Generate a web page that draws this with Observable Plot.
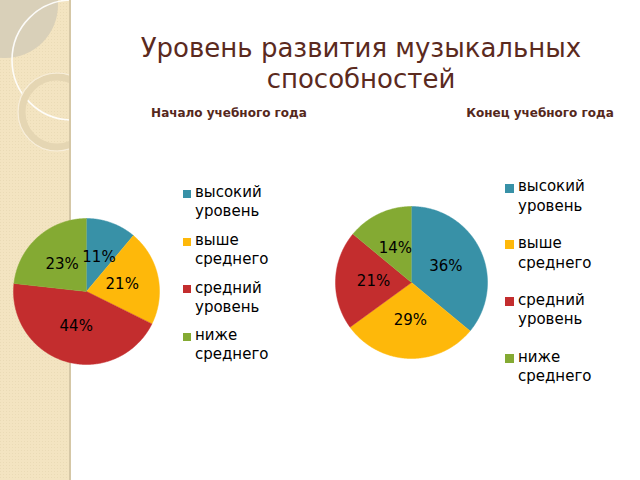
<!DOCTYPE html>
<html><head><meta charset="utf-8">
<script src="https://cdn.jsdelivr.net/npm/d3@7"></script>
<script src="https://cdn.jsdelivr.net/npm/@observablehq/plot@0.6"></script>
<style>
body{margin:0;background:#fff;font-family:"DejaVu Sans",sans-serif;}
#page{position:relative;width:640px;height:480px;overflow:hidden;background:#fff;}
#strip{position:absolute;left:0;top:0;width:72px;height:480px;}
.title{position:absolute;left:100px;width:522px;text-align:center;font-size:26px;line-height:31px;color:#5B2A1E;top:32.5px;}
.sub{position:absolute;font-size:12px;line-height:14px;font-weight:bold;color:#55281C;top:105.5px;width:220px;text-align:center;}
.pie{position:absolute;}
.leg{position:absolute;font-size:15px;color:#000;}
.leg .sw{position:absolute;}
.leg .tx{position:absolute;white-space:nowrap;}
</style></head><body>
<div id="page">
  <svg id="strip" width="72" height="480">
    <defs><pattern id="dots" width="3" height="3" patternUnits="userSpaceOnUse"><rect width="3" height="3" fill="#F3E4C1"/><rect width="1" height="1" fill="#EADBB6"/></pattern>
    <clipPath id="cp"><rect width="70" height="480"/></clipPath></defs>
    <rect width="70" height="480" fill="url(#dots)"/>
    <g clip-path="url(#cp)">
      <circle cx="5" cy="5" r="53" fill="#D9D0B9"/>
      <circle cx="72" cy="60" r="60" fill="none" stroke="#FFFFFF" stroke-width="1.6" opacity="0.9"/>
      <circle cx="57" cy="112" r="35" fill="none" stroke="#E5D6B3" stroke-width="7"/>
      <circle cx="57" cy="112" r="39" fill="none" stroke="#F7EEDB" stroke-width="1.2"/>
    </g>
    <rect x="69" y="0" width="2" height="480" fill="#D5C7A6"/>
  </svg>
  <div class="title" id="title"></div>
  <div class="sub" id="sub1" style="left:119px"></div>
  <div class="sub" id="sub2" style="left:430px"></div>
  <div class="pie" id="pie1"></div>
  <div class="pie" id="pie2"></div>
  <div class="leg" id="leg1"></div>
  <div class="leg" id="leg2"></div>
</div>
<script>
const titleLines = ["Уровень развития музыкальных", "способностей"];
const subtitles = ["Начало учебного года", "Конец учебного года"];
const categories = ["высокий уровень", "выше среднего", "средний уровень", "ниже среднего"];
const legendLines = [["высокий", "уровень"], ["выше", "среднего"], ["средний", "уровень"], ["ниже", "среднего"]];
const colors = ["#3891A7", "#FEB80A", "#C32D2E", "#84AA33"];
const startValues = [11, 21, 44, 23];
const endValues = [36, 29, 21, 14];

document.getElementById("title").innerHTML = titleLines.join("<br>");
document.getElementById("sub1").textContent = subtitles[0];
document.getElementById("sub2").textContent = subtitles[1];

function pieChart(values, r) {
  const arcs = d3.pie().sort(null).value(d => d)(values);
  const pts = [];
  const labels = [];
  arcs.forEach((a, i) => {
    const cat = categories[i];
    pts.push({cat, x: 0, y: 0});
    const n = Math.max(2, Math.ceil((a.endAngle - a.startAngle) / 0.01));
    for (let k = 0; k <= n; k++) {
      const t = a.startAngle + (a.endAngle - a.startAngle) * k / n;
      pts.push({cat, x: Math.sin(t), y: Math.cos(t)});
    }
    const m = (a.startAngle + a.endAngle) / 2;
    labels.push({cat, x: 0.5 * Math.sin(m), y: 0.5 * Math.cos(m), text: values[i] + "%"});
  });
  const size = 2 * r + 4;
  return Plot.plot({
    width: size, height: size, margin: 2,
    x: {domain: [-1, 1], axis: null},
    y: {domain: [-1, 1], axis: null},
    color: {domain: categories, range: colors},
    style: {background: "transparent", overflow: "visible"},
    marks: [
      Plot.line(pts, {x: "x", y: "y", z: "cat", fill: "cat", stroke: "cat", strokeWidth: 0.5, curve: "linear"}),
      Plot.text(labels, {x: "x", y: "y", text: "text", fill: "#000", fontSize: 15, fontFamily: "DejaVu Sans"})
    ]
  });
}

function place(id, el, left, top) {
  const d = document.getElementById(id);
  d.style.left = left + "px";
  d.style.top = top + "px";
  d.appendChild(el);
}
const r1 = 73, r2 = 76;
place("pie1", pieChart(startValues, r1), 85.5 - r1 - 2, 290.5 - r1 - 2);
place("pie2", pieChart(endValues, r2), 411 - r2 - 2, 282 - r2 - 2);

function legend(id, left, firstCenter, spacing, lineGap, swSize) {
  const d = document.getElementById(id);
  d.style.left = left + "px";
  d.style.top = "0px";
  legendLines.forEach((lines, i) => {
    const c = firstCenter + i * spacing;
    const sw = document.createElement("div");
    sw.className = "sw";
    sw.style.background = colors[i];
    sw.style.width = swSize + "px";
    sw.style.height = swSize + "px";
    sw.style.left = "0px";
    sw.style.top = (c - swSize / 2) + "px";
    d.appendChild(sw);
    lines.forEach((ln, j) => {
      const t = document.createElement("div");
      t.className = "tx";
      t.textContent = ln;
      t.style.left = (swSize + 4) + "px";
      t.style.lineHeight = "19px";
      t.style.top = (c + j * lineGap - 10.6) + "px";
      d.appendChild(t);
    });
  });
}
legend("leg1", 183, 194, 47.6, 19, 8);
legend("leg2", 505, 188, 56.7, 19.5, 9);
</script>
</body></html>
